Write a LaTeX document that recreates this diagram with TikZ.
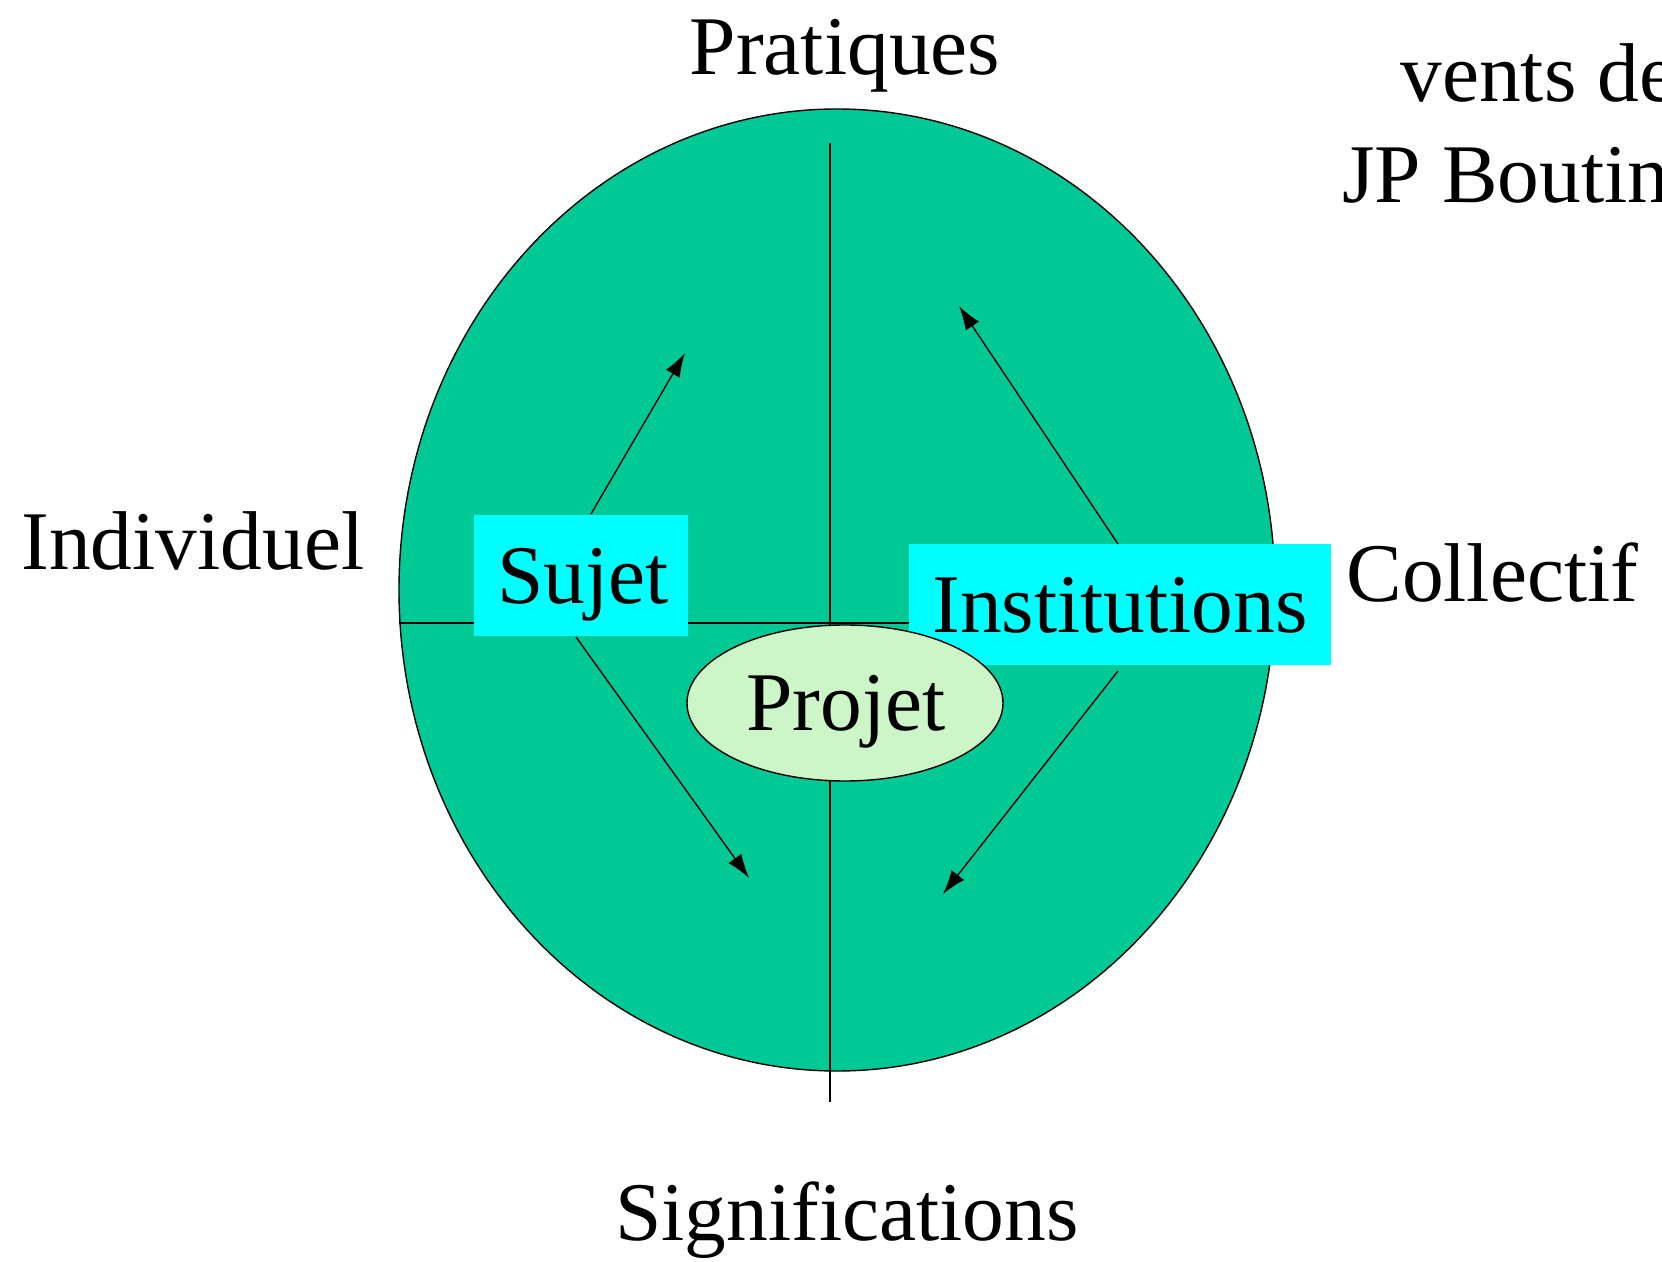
\documentclass[tikz,border=0pt]{standalone}
\usepackage{fontspec}
\setmainfont{Liberation Serif}
\usetikzlibrary{arrows.meta,shapes.geometric}
\definecolor{disc}{HTML}{00C996}
\definecolor{boxcyan}{HTML}{00FFFF}
\definecolor{projetfill}{HTML}{CCF5C8}
\tikzset{
  lbl/.style={anchor=base west, inner sep=0pt, font=\fontsize{41.7}{50}\selectfont},
  lblc/.style={anchor=base, inner sep=0pt, font=\fontsize{41.7}{50}\selectfont},
  tag/.style={fill=boxcyan, draw=none, inner sep=0pt, minimum height=60.5pt},
  axis/.style={line width=0.8pt, black},
  flow/.style={line width=0.7pt, black, -{Latex[length=12pt,width=8pt]}},
}
\begin{document}
\begin{tikzpicture}[x=0.5pt,y=-0.5pt]
\useasboundingbox (0,0) rectangle (1662,1262);
% main disc
\node[draw=black, line width=0.7pt, fill=disc, ellipse, inner sep=0pt,
      minimum width=438pt, minimum height=481pt] (disc) at (837,590) {};
% axes
\coordinate (vtop) at (830,143);
\coordinate (vbot) at (830,1102);
\coordinate (hleft) at (399,623);
\coordinate (hright) at (912,623);
\draw[axis] (vtop) -- (vbot);
\draw[axis] (hleft) -- (hright);
% boxes
\node[tag, minimum width=107pt] (sujetbox) at (581,575.5) {};
\node[tag, minimum width=211pt] (instbox) at (1120,604.5) {};
\node[draw=black, line width=0.7pt, fill=projetfill, ellipse, inner sep=0pt,
      minimum width=158pt, minimum height=78pt] (projet) at (845,703) {};
% texts
\node[lblc] (sujet) at (583,604) {Sujet};
\node[lblc] (inst) at (1120,633) {Institutions};
\node[lblc] (projettxt) at (846,731) {Projet};
\node[lblc] (prat) at (845,75) {Pratiques};
\node[lblc] (signif) at (847,1240) {Significations};
\node[lbl] (indiv) at (21,570) {Individuel};
\node[lbl] (coll) at (1346,602) {Collectif};
\node[lbl] (vents) at (1400,102) {vents de};
\node[lbl] (jp) at (1342,203) {JP Boutin};
% arrows
\coordinate (s1) at (591,514);
\coordinate (s1t) at (685,353);
\coordinate (s2) at (576,637);
\coordinate (s2t) at (749,878);
\coordinate (i1) at (1118,544);
\coordinate (i1t) at (959,306);
\coordinate (i2) at (1118,671);
\coordinate (i2t) at (943,894);
\draw[flow] (s1) -- (s1t);
\draw[flow] (s2) -- (s2t);
\draw[flow] (i1) -- (i1t);
\draw[flow] (i2) -- (i2t);
\end{tikzpicture}
\end{document}
